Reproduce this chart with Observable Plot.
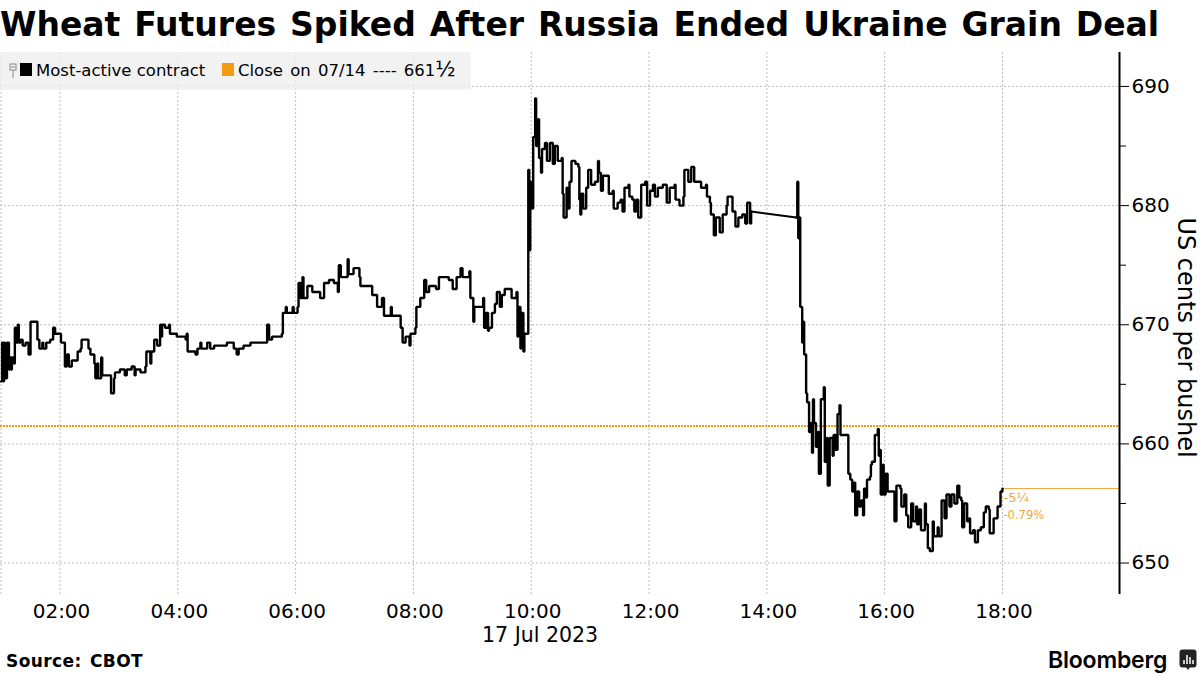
<!DOCTYPE html>
<html>
<head>
<meta charset="utf-8">
<script src="https://cdn.jsdelivr.net/npm/d3@7"></script>
<script src="https://cdn.jsdelivr.net/npm/@observablehq/plot@0.6"></script>
<style>
html,body{margin:0;padding:0;background:#fff;}
#page{position:relative;width:1200px;height:675px;overflow:hidden;font-family:"DejaVu Sans",sans-serif;color:#000;}
#title{position:absolute;left:0;top:4px;font-size:33px;font-weight:700;white-space:nowrap;line-height:42px;word-spacing:2.4px;}
#chart{position:absolute;left:0;top:50px;}
#legend{position:absolute;left:0;top:52px;width:471px;height:38px;background:rgba(238,238,238,.75);font-size:16.5px;line-height:38px;white-space:nowrap;}
#legend span{position:absolute;top:0;}
#legend i{position:absolute;top:11px;width:12px;height:13px;}
#legend b{font-weight:400;font-size:21px;line-height:20px;}
#source{position:absolute;left:6px;top:651px;font-size:17px;font-weight:700;letter-spacing:.4px;word-spacing:2px;}
#brand{position:absolute;left:1048px;top:646px;font-family:Inter,"Liberation Sans",sans-serif;font-size:23px;font-weight:600;letter-spacing:-.2px;}
#mark{position:absolute;left:1179px;top:649px;}
</style>
</head>
<body>
<div id="page">
<div id="title">Wheat Futures Spiked After Russia Ended Ukraine Grain Deal</div>
<div id="chart"></div>
<div id="legend">
<svg style="position:absolute;left:9px;top:11px" width="9" height="16"><rect x="1" y="1" width="6" height="6" fill="none" stroke="#888"/><path d="M4 7V15M2 4H6" stroke="#888" fill="none"/></svg>
<i style="left:20px;background:#000"></i><span style="left:36px">Most-active contract</span>
<i style="left:222px;background:#f39c12"></i><span style="left:238px;word-spacing:2px">Close on 07/14 ---- 661<b>½</b></span>
</div>
<div id="source">Source: CBOT</div>
<div id="brand">Bloomberg</div>
<svg id="mark" width="18" height="22"><rect x="0.5" y="0.5" width="17" height="18" rx="3" fill="#222"/><path d="M7 18L9 21L11 18Z" fill="#222"/><path d="M5 15V11M8 15V6M11 15V8M14 15V11" stroke="#fff" stroke-width="1.5"/></svg>
</div>
<script>
// minutes after midnight on 17 Jul 2023, price in US cents per bushel
const earlySession = [
[60,665.25],[61,668.5],[62,665.25],[63,668.5],[64,665.5],[66,668.5],[68,666.25],[69,667.25],[70,666.25],[71,667.25],[73,666.75],[74,669.75],[75,668.5],[77,670],[78,668.5],[80,668.75],[82,668.25],[85,668.5],[88,667.5],[90,670.25],[96,670.25],[97,668.75],[99,668],[102,668.5],[103,668],[106,668.5],[110,668.75],[113,669.75],[115,669.25],[120,669.25],[121,668.5],[124,668.5],[125,666.5],[127,667.5],[129,666.5],[132,667],[137,667],[138,667.75],[141,668],[142,668.75],[147,668.75],[149,668],[151,667.5],[155,666.75],[156,665.5],[158,666.75],[159,665.5],[162,667.25],[163,665.75],[169,665.75],[172,664.25],[175,665.5],[176,666],[181,666.25],[186,665.75],[188,666.25],[193,666.5],[196,665.75],[197,666.25],[202,666],[207,666.5],[208,667.75],[212,666.75],[213,667.75],[216,668.75],[219,668.25],[222,670],[223,669],[224,670],[227,669.75],[231,670],[232,669.25],[236,669.25],[239,669],[248,668.75],[249,669.25],[250,667.75],[253,667.75],[258,667.5],[260,668],[263,668.5],[264,668],[270,668.5],[273,668],[277,668.25],[283,668.25],[290,668.5],[297,668],[300,667.5],[302,668],[307,668.25],[314,668.5],[323,668.5],[328,668.5],[331,670],[333,668.75],[336,669],[346,669.25],[347,671],[350,671.5],[351,671],[357,671.5],[358,671],[362,671.5],[363,673.5],[365,672.25],[367,674],[368,672.25],[372,673.25],[377,672.75],[385,672.25],[389,673.5],[394,673.75],[399,673.5],[403,672.75],[404,675],[406,674],[413,675.5],[414,674.25],[419,674.75],[425,674],[426,673.25],[433,673.25],[438,672.5],[443,671.5],[448,672.25],[450,670.75],[457,671.5],[458,670.75],[465,670.75],[467,669.75],[469,668.5],[472,669],[476,668.25],[477,669.25],[482,669.75],[483,671.5],[487,672.25],[491,673.75],[493,672.75],[496,673.25],[503,673],[506,674],[511,674],[516,673.75],[520,673],[524,674],[528,674.75],[530,674],[537,674.5],[538,672.25],[541,670.25],[542,671.5],[549,671.5]
];
const midSession = [
[551,672.25],[552,669.75],[554,671],[556,669.5],[557,669.75],[560,671],[563,671.75],[565,672.75],[568,671.5],[570,672.5],[573,673],[580,672.25],[585,672.75],[586,669],[587,671.5],[589,668],[590,671],[592,667.75],[593,669.25],[596,669.25],[597,683],[598,676.25],[599,682],[600,679.75],[602,685.75],[604,689],[605,685],[607,687.25],[608,684],[610,682.75],[611,684.75],[614,685.25],[616,683.75],[619,685.25],[622,683.5],[624,685],[627,683.75],[631,684],[632,681],[633,679],[636,681.5],[637,679.75],[639,682],[641,683.75],[645,683.5],[648,683.25],[649,680.5],[650,679.25],[651,681],[653,679.75],[656,681.5],[658,683],[661,681.75],[665,682],[668,683.75],[669,682.75],[671,681.25],[673,682.5],[678,682.5],[679,681],[683,681.25],[684,679.75],[688,680.25],[691,680.5],[693,679.5],[695,681.5],[699,681.75],[700,680.75],[703,680.5],[705,679.5],[707,680.5],[709,679],[712,681.75],[716,682],[718,680],[721,681.25],[724,681.75],[726,680.75],[729,681.5],[734,681.75],[738,680.25],[741,681.5],[746,681.75],[747,680.5],[751,680],[755,680.75],[756,683],[760,682],[763,683.25],[766,682],[770,682],[773,681.5],[778,681.75],[779,680.75],[782,680.25],[783,679.25],[786,677.5],[788,679],[792,677.75],[795,679.25],[799,680],[800,680.75],[804,680.75],[805,679.5],[808,678.25],[811,679],[815,679.25],[818,678.5],[820,680.25],[823,678.5],[824,679.5]
];
const lateSession = [
[870,679],[871,682],[872,677.25],[873,679],[874,671.5],[875,671.5],[876,668.5],[877,670.25],[878,667.5],[880,667.25],[880,664.25],[881,663.5],[883,661],[885,661.75],[886,659.25],[887,663.75],[888,661.75],[890,659.75],[892,661],[893,657.5],[895,663.75],[898,664.75],[899,658.5],[901,660.5],[902,656.5],[904,660.5],[907,659],[908,660.75],[910,659.5],[912,662.5],[914,663.25],[915,660.75],[922,660.75],[923,657.5],[925,657],[927,656],[929,656.75],[930,654],[932,656],[934,654.75],[936,655.25],[938,654],[939,656.25],[941,655.5],[942,657],[945,657.25],[946,658.25],[947,658.5],[950,660.75],[953,661.25],[954,659],[955,659.5],[956,655.75],[958,658.25],[959,655.75],[961,657.5],[963,656],[968,656],[970,653.5],[972,656.5],[976,656.25],[977,654.75],[980,655.75],[982,654],[984,653],[987,655],[989,653.5],[992,654.75],[993,653.25],[995,654.5],[997,652.75],[1001,655],[1002,653.25],[1004,651.25],[1006,651],[1009,653.5],[1010,652.25],[1014,653],[1015,652.25],[1018,655.25],[1021,653.75],[1023,655.75],[1026,654.75],[1028,655.75],[1031,655],[1034,656.5],[1036,655.5],[1038,655.25],[1039,653],[1041,655],[1044,653.5],[1046,653.75],[1047,652.5],[1050,652.75],[1052,651.75],[1055,652.75],[1058,653],[1061,654.25],[1063,654.75],[1066,654.5],[1067,652.5],[1071,653.75],[1075,654.75],[1078,656],[1080,656.25]
];
const priorClose = 661.5;
const lastPrice = 656.25;
const lastTime = 1080;
const xDomain = [59.4, 1199.2];
const yDomain = [647.36, 692.85];
const xTicks = [120, 240, 360, 480, 600, 720, 840, 960, 1080];
const yTicks = [650, 660, 670, 680, 690];
const yMinorTicks = [655, 665, 675, 685];
const dateLabel = "17 Jul 2023";
const yLabel = "US cents per bushel";
const changeLabels = ["-5¼", "-0.79%"];

const tradingSeries = [...earlySession, ...midSession];
const halt = [midSession[midSession.length - 1], lateSession[0]];
const hhmm = (m) => String(Math.floor(m / 60)).padStart(2, "0") + ":" + String(m % 60).padStart(2, "0");
const grid = {stroke: "#bdbdbd", strokeWidth: 1, strokeDasharray: "2,2"};
const orange = "#f39c12";
const priceLine = {x: d => d[0], y: d => d[1], stroke: "#000", strokeWidth: 2.4, strokeLinejoin: "miter"};

const chart = Plot.plot({
  width: 1200,
  height: 600,
  marginLeft: 0,
  marginRight: 81,
  marginTop: 2,
  marginBottom: 56,
  style: {fontFamily: "DejaVu Sans", background: "transparent", overflow: "visible"},
  x: {domain: xDomain, axis: null},
  y: {domain: yDomain, axis: null},
  marks: [
    Plot.ruleX([60, ...xTicks], grid),
    Plot.ruleY(yTicks, grid),
    Plot.ruleY([priorClose], {stroke: orange, strokeWidth: 2, strokeDasharray: "2,1"}),
    Plot.ruleY([lastPrice], {x1: lastTime, x2: xDomain[1], stroke: "#eea63a", strokeWidth: 1}),
    Plot.line(tradingSeries, {...priceLine, curve: "step-after"}),
    Plot.line(halt, {...priceLine, strokeWidth: 2, curve: "linear"}),
    Plot.line(lateSession, {...priceLine, curve: "step-after"}),
    Plot.axisX({ticks: xTicks, tickFormat: hhmm, tickSize: 0, tickPadding: 9, fontSize: 20, label: null, anchor: "bottom", dx: 1.5}),
    Plot.ruleX([xDomain[1]], {stroke: "#000", strokeWidth: 2}),
    Plot.axisY({anchor: "right", ticks: yTicks, tickSize: 9, tickPadding: 3, fontSize: 20, label: null, tickFormat: d => String(d), stroke: "#000"}),
    Plot.axisY({anchor: "right", ticks: yMinorTicks, tickSize: 6, tickFormat: () => "", label: null, stroke: "#000"}),
    Plot.text([yLabel], {frameAnchor: "right", textAnchor: "middle", rotate: 90, dx: 66, dy: 14, fontSize: 24, fill: "#000"}),
    Plot.text([dateLabel], {x: [609], frameAnchor: "bottom", dy: 47, fontSize: 20.5, fill: "#000"}),
    Plot.text([changeLabels[0]], {x: [lastTime + 1], y: [lastPrice], dy: 9, textAnchor: "start", fontSize: 13, fill: "#eea63a"}),
    Plot.text([changeLabels[1]], {x: [lastTime + 1], y: [lastPrice], dy: 27, textAnchor: "start", fontSize: 11.5, fill: "#eea63a"})
  ]
});
document.getElementById("chart").appendChild(chart);
</script>
</body>
</html>
